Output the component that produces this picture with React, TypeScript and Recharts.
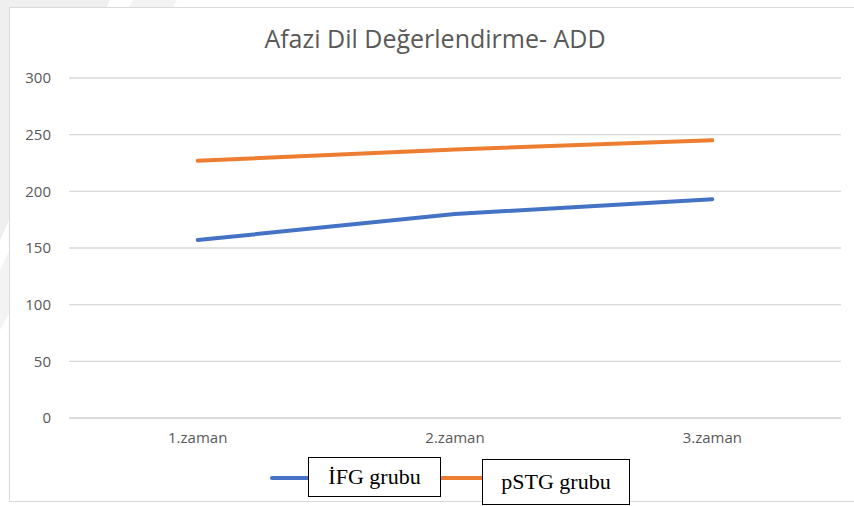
import React from "react";
import { LineChart, Line, XAxis, YAxis, CartesianGrid } from "recharts";

const categories = ["1.zaman", "2.zaman", "3.zaman"];
const ifgValues = [157, 180, 193];
const pstgValues = [227, 237, 245];
const yTicks = [0, 50, 100, 150, 200, 250, 300];
const title = "Afazi Dil Değerlendirme- ADD";

const series = [
  { key: "ifg", name: "İFG grubu", color: "#4472C4", values: ifgValues },
  { key: "pstg", name: "pSTG grubu", color: "#ED7D31", values: pstgValues },
];

const data = categories.map((c, i) => {
  const row: Record<string, string | number> = { cat: c };
  series.forEach((s) => {
    row[s.key] = s.values[i];
  });
  return row;
});

const legendBoxStyles: React.CSSProperties[] = [
  { height: 38, marginTop: 0, width: 131 },
  { height: 44, marginTop: 2, width: 146 },
];
const legendLineWidths = [38, 41];

export default function App() {
  return (
    <div style={{ position: "absolute", left: 0, top: 0, width: 854, height: 506, overflow: "hidden", background: "#fff" }}>
      <svg width={854} height={506} style={{ position: "absolute", left: 0, top: 0 }}>
        <polygon points="0,0 110,0 0,240" fill="#efefef" />
        <polygon points="133,0 177,0 0,330 0,270" fill="#f3f3f3" />
      </svg>
      <div
        style={{
          position: "absolute",
          left: 9,
          top: 7,
          width: 860,
          height: 493,
          border: "1.5px solid #d9d9d9",
          background: "#fff",
        }}
      />
      <div
        style={{
          position: "absolute",
          left: 0,
          top: 0,
          width: 854,
          height: 506,
        }}
      >
        <LineChart width={854} height={506} data={data} margin={{ top: 78, right: 13, bottom: 58, left: 9 }}>
          <CartesianGrid vertical={false} stroke="#d9d9d9" strokeWidth={1.3} />
          <XAxis
            dataKey="cat"
            height={30}
            axisLine={{ stroke: "#d9d9d9", strokeWidth: 1.3 }}
            tickLine={false}
            tickSize={0}
            tickMargin={14}
            padding={{ left: 128.7, right: 128.7 }}
            tick={{ fill: "#595959", fontSize: 15, fontFamily: "'Open Sans', sans-serif" }}
          />
          <YAxis
            width={60}
            domain={[0, 300]}
            ticks={yTicks}
            axisLine={false}
            tickLine={false}
            tickSize={0}
            tickMargin={18}
            tick={{ fill: "#595959", fontSize: 15, fontFamily: "'Open Sans', sans-serif" }}
          />
          {series.map((s) => (
            <Line
              key={s.key}
              type="linear"
              dataKey={s.key}
              name={s.name}
              stroke={s.color}
              strokeWidth={4}
              strokeLinecap="round"
              dot={false}
              activeDot={false}
              isAnimationActive={false}
            />
          ))}
        </LineChart>
      </div>
      <div
        style={{
          position: "absolute",
          left: 0,
          top: 21,
          width: 870,
          textAlign: "center",
          fontFamily: "'Open Sans', sans-serif",
          fontSize: 25,
          color: "#595959",
          lineHeight: "34px",
        }}
      >
        {title}
      </div>
      <div
        style={{
          position: "absolute",
          left: 270,
          top: 457,
          display: "flex",
          alignItems: "flex-start",
        }}
      >
        {series.map((s, i) => (
          <div key={s.key} style={{ display: "flex", alignItems: "flex-start" }}>
            <div
              style={{
                width: legendLineWidths[i],
                height: 4,
                marginTop: 19,
                background: s.color,
                borderRadius: i === 0 ? "2px 0 0 2px" : 0,
              }}
            />
            <div
              style={{
                ...legendBoxStyles[i],
                border: "1.3px solid #000",
                boxSizing: "content-box",
                display: "flex",
                alignItems: "center",
                justifyContent: "center",
                fontFamily: "'Liberation Serif', 'Times New Roman', serif",
                fontSize: 22,
                color: "#000",
                background: "#fff",
              }}
            >
              {s.name}
            </div>
          </div>
        ))}
      </div>
    </div>
  );
}
